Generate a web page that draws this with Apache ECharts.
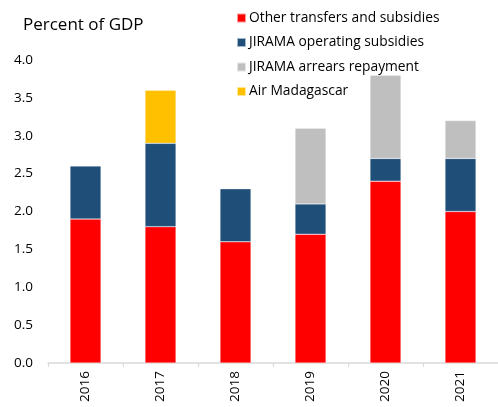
<!DOCTYPE html>
<html>
<head>
<meta charset="utf-8">
<script src="https://cdn.jsdelivr.net/npm/echarts@6/dist/echarts.min.js"></script>
<style>
  html, body { margin: 0; padding: 0; background: #fff; }
  #chart { width: 498px; height: 407px; }
</style>
</head>
<body>
<div id="chart"></div>
<script>
const years = ["2016", "2017", "2018", "2019", "2020", "2021"];
const otherTransfers = [1.9, 1.8, 1.6, 1.7, 2.4, 2.0];
const jiramaOperating = [0.7, 1.1, 0.7, 0.4, 0.3, 0.7];
const jiramaArrears = [0, 0, 0, 1.0, 1.1, 0.5];
const airMadagascar = [0, 0.7, 0, 0, 0, 0];
const yTicks = [0, 0.5, 1, 1.5, 2, 2.5, 3, 3.5, 4];

const font = "Open Sans";
const chart = echarts.init(document.getElementById("chart"));

function bar(name, data, color) {
  return {
    name: name,
    type: "bar",
    stack: "total",
    data: data.map(v => (v === 0 ? null : v)),
    barWidth: 31,
    itemStyle: { color: color, borderColor: "rgba(255,255,255,0.6)", borderWidth: 0.5 },
    emphasis: { disabled: true }
  };
}

chart.setOption({
  animation: false,
  textStyle: { fontFamily: font },
  title: {
    text: "Percent of GDP",
    left: 18,
    top: 12,
    textStyle: { fontFamily: font, fontSize: 17, fontWeight: "normal", color: "#000" }
  },
  legend: {
    orient: "vertical",
    left: 236,
    top: 11,
    padding: 0,
    itemWidth: 9,
    itemHeight: 9,
    itemGap: 10.5,
    icon: "rect",
    textStyle: { fontFamily: font, fontSize: 13.8, color: "#000", padding: [0, 0, 0, -2] },
    data: ["Other transfers and subsidies", "JIRAMA operating subsidies", "JIRAMA arrears repayment", "Air Madagascar"]
  },
  grid: { left: 48, right: -8.5, top: 60, bottom: 44, containLabel: false },
  xAxis: {
    type: "category",
    data: years,
    axisLine: { lineStyle: { color: "#d9d9d9", width: 1.5 } },
    axisTick: { show: true, length: 4, lineStyle: { color: "#d9d9d9" } },
    axisLabel: { rotate: 90, color: "#000", fontSize: 13.5, margin: 8, fontFamily: font }
  },
  yAxis: {
    type: "value",
    min: 0,
    max: 4,
    interval: 0.5,
    splitLine: { show: false },
    axisLine: { show: false },
    axisTick: { show: false },
    axisLabel: {
      color: "#000",
      fontSize: 13.5,
      margin: 15,
      fontFamily: font,
      formatter: v => (yTicks.includes(v) ? v.toFixed(1) : "")
    }
  },
  series: [
    bar("Other transfers and subsidies", otherTransfers, "#ff0000"),
    bar("JIRAMA operating subsidies", jiramaOperating, "#1f4e79"),
    bar("JIRAMA arrears repayment", jiramaArrears, "#bfbfbf"),
    bar("Air Madagascar", airMadagascar, "#ffc000")
  ]
});
</script>
</body>
</html>
